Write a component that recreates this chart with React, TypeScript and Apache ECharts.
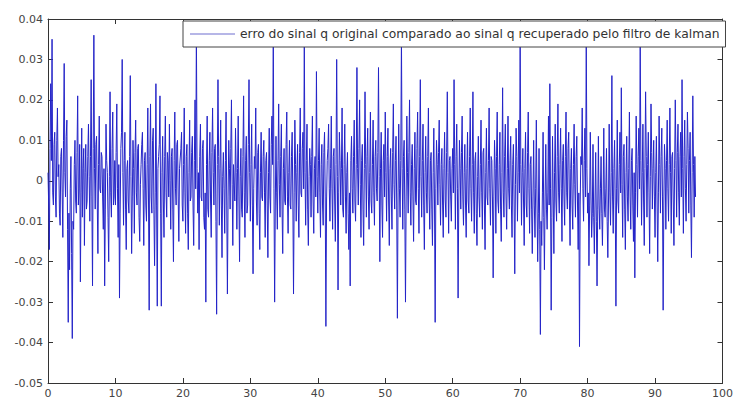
import React, { useEffect, useRef } from "react";
import * as echarts from "echarts";

// sampling step of the time axis (seconds)
const sampleStep = 0.1;

// error values in thousandths (x 1e-3), 20 samples per 2 s
const errMilli: number[] = [
  2, -6, -17, 8, 24, 5, 35, -3, -6, 9, 12, -4, -9, 10, 18, 1, 4, -8, -11, 6,
  8, -3, -14, 10, 29, 2, -4, 11, 15, -12, -35, -8, -22, -2, 6, -18, -39, -10, -12, 4,
  10, -5, -8, 7, 21, -6, -2, 9, -25, -3, 13, -9, 3, 8, -16, 2, 9, -7, -5, 6,
  14, 1, -10, 6, 25, -4, -26, 8, 36, 3, -7, 9, 11, -5, -18, 4, 16, -2, -3, 7,
  6, -4, -12, 3, -26, -7, 14, 5, 2, -9, -20, 1, 22, -3, -9, 8, 17, -6, -4, 5,
  -6, 7, 19, -2, -14, 4, -29, -8, 8, 12, 30, 2, -11, 5, 12, -7, -17, 3, 5, -5,
  -8, 6, 26, 1, -18, -4, 10, 3, -13, 7, 15, -3, -6, 8, 9, -9, -15, -1, 4, 9,
  12, -2, -16, 5, 7, -6, -10, 4, 18, -5, -32, 6, 19, -4, -8, 10, 13, -7, -21, -3,
  24, -6, -31, 3, 6, 9, 21, -8, -31, 2, 11, -5, -14, 6, 16, -3, -9, 7, 5, -4,
  14, 0, -12, 6, 8, -7, -20, 5, 17, -2, -6, 9, 10, -4, -15, 3, 3, 8, 12, -6,
  -10, 4, 18, -3, -13, 6, 9, -8, -17, 2, 15, -5, -4, 7, 11, -6, -16, 5, 20, -2,
  37, 3, -8, 2, -17, 6, 14, -4, -5, 8, 10, -9, -12, -3, -30, 4, 16, -7, -9, 5,
  12, -5, -14, 7, 18, 2, -6, 8, 9, -10, -33, 4, 25, 6, -11, 3, 15, -6, -19, 1,
  7, -2, -13, 5, 17, -6, -28, -4, 10, 3, -7, 8, 20, -1, -16, 4, 4, -5, 13, 2,
  -12, 3, 16, -4, -20, 1, 8, -7, -9, 6, 21, -3, -14, 5, 11, -8, -6, 9, 25, 2,
  -10, 4, 14, -6, -23, -2, 6, 3, 18, -5, -11, 7, 9, -8, -17, 2, 12, -4, -5, 6,
  10, -3, -14, 5, 7, -6, -19, 2, 13, -4, -8, 9, 16, 4, 36, -2, -30, -6, 11, -3,
  -12, 5, 19, -1, -9, 6, 14, -7, -18, 3, 8, -5, -6, 9, 17, -4, -13, 2, 10, -6,
  -7, 6, 12, -5, -28, -3, 15, 4, -10, 2, 9, -6, -14, 7, 18, -3, -4, 8, 12, -2,
  34, 2, -11, 5, 14, -7, -16, 1, 8, 4, -9, 6, 16, -5, -13, 3, 6, -4, 27, 1,
  -8, 5, 13, -3, -14, 4, 9, -6, -11, 7, 12, -4, -36, -5, 5, 8, 14, -2, -10, 3,
  16, -2, -12, 6, 8, -5, -15, 4, 30, 1, -27, -3, 12, 5, -6, 3, 18, -7, -9, 4,
  14, -4, -13, 2, 7, -8, -17, -3, -26, 5, 11, -2, -8, 6, 15, -5, -10, 4, 28, 3,
  -6, 8, 20, -1, -14, 5, 9, -7, -16, 3, 22, 4, -9, 6, 13, -4, -12, 2, 17, -5,
  -8, 4, 15, -3, -11, 6, 10, -2, -5, 7, 28, 1, -20, 3, 12, -6, -14, 5, 9, -4,
  17, 2, -10, 6, 13, -5, -16, 3, 8, -4, -12, 7, 19, -1, -7, 5, 11, -6, -34, -3,
  14, -2, -9, 5, 36, 3, -12, 6, 10, -7, -30, -4, 16, 2, -8, 7, 20, -3, -11, 4,
  9, -4, -15, 3, 12, -5, -6, 8, 17, -2, -13, 6, 25, 1, -9, 5, 14, -6, -17, 2,
  11, -3, -8, 6, 18, -4, -12, 5, 7, -7, -16, 2, 13, -5, -35, -2, 10, 4, -6, 7,
  15, -1, -11, 4, 8, -6, -14, 3, 12, -5, -9, 7, 22, 2, -13, 5, 6, -4, -10, 3,
  8, -3, 25, 4, -12, 6, 14, -2, -29, -5, 10, 3, -7, 7, 16, -4, -11, 2, 9, -6,
  -14, 3, 12, -5, -8, 6, 18, -2, -10, 4, 22, -3, -13, 5, 7, -8, -16, 1, 11, -4,
  -9, 4, 15, -3, -12, 7, 8, -6, -17, 2, 13, -4, -6, 5, 18, -2, -11, 6, 5, -5,
  -24, -4, 10, 3, -13, 6, 17, -5, -8, 4, 12, -7, -15, 2, 23, -3, -9, 6, 14, -4,
  -12, 3, 16, -2, -7, 5, 11, -6, -14, 4, 9, -5, -23, -1, 13, 6, -10, 2, 15, -3,
  36, 4, -11, 2, 8, -5, -16, 3, 12, -6, -9, 7, 17, -2, -13, 4, 6, -7, -18, -4,
  10, -6, -14, -2, 15, -5, -20, -8, 8, -12, -38, -10, -16, -3, 12, -9, -22, -4, 9, -7,
  -12, -3, 16, -6, 24, -2, -32, -9, 11, -4, -18, 2, 14, -5, -10, 6, 19, -3, -8, 4,
  13, -2, -15, 5, 9, -4, -11, 6, 17, -3, -7, 8, 12, -5, -16, 3, 8, -6, -12, 4,
  14, -1, -9, 6, 11, -5, -17, -3, -41, -6, 6, 4, 18, -2, -10, 5, 13, -4, 35, 3,
  -8, -3, -21, -6, 12, -4, -14, -8, 9, -9, -18, -5, 7, -10, -26, -7, 11, -6, -12, -2,
  6, -8, -16, -4, 13, -7, -9, -2, 8, -10, -19, -5, 14, -3, -11, 2, 26, -4, -13, 3,
  10, -6, -31, -2, 15, -5, -8, 4, 12, -3, 23, -1, -14, 6, 9, -7, -17, 2, 11, -4,
  -10, 3, 17, -4, -12, 5, 8, -6, -15, 2, -24, -3, 16, 4, -9, 6, 13, -2, 34, 5,
  -11, 2, 14, -5, -16, 3, 22, 6, -9, 4, 12, -3, -18, 1, 19, 7, -7, 3, 10, -4,
  -14, 2, 11, -5, -20, -3, 16, 4, -8, 6, 13, -4, -32, -6, 9, 3, -12, 5, 15, -2,
  -10, 4, 18, 2, -13, 6, 7, -5, -16, 3, 20, 5, -9, 7, 14, -3, -11, 6, 12, -4,
  25, 3, -13, 6, 15, -2, -10, 4, 17, 8, -8, 5, 12, -6, -19, 2, 21, 4, -9, 6,
  -4,
];

const seriesName =
  "erro do sinal q original comparado ao sinal q recuperado pelo filtro de kalman";

const xTicks = { min: 0, max: 100, interval: 10 };
const yTicks = { min: -0.05, max: 0.04, interval: 0.01 };

export default function App() {
  const ref = useRef<HTMLDivElement>(null);
  useEffect(() => {
    if (!ref.current) return;
    const chart = echarts.init(ref.current, null, { renderer: "svg" });
    const data = errMilli.map((v, i) => [i * sampleStep, v / 1000]);
    const axisLine = { show: true, onZero: false, lineStyle: { color: "#333", width: 1 } };
    const tick = { show: true, inside: true, length: 5, lineStyle: { color: "#333" } };
    const font = "DejaVu Sans";
    chart.setOption({
      animation: false,
      backgroundColor: "#fff",
      grid: { left: 48, right: 11, top: 19, bottom: 20, containLabel: false },
      legend: {
        show: true,
        data: [seriesName],
        left: 183,
        top: 21,
        orient: "horizontal",
        backgroundColor: "#fff",
        borderColor: "#444",
        borderWidth: 1,
        borderRadius: 0,
        padding: [7, 6, 7, 7],
        icon: "rect",
        itemWidth: 45,
        itemHeight: 1,
        itemGap: 5,
        itemStyle: { color: "#6f6fd0" },
        textStyle: { fontFamily: font, fontSize: 12.3, color: "#333" },
      },
      xAxis: [
        {
          type: "value",
          ...xTicks,
          position: "bottom",
          axisLine,
          axisTick: tick,
          splitLine: { show: false },
          axisLabel: { fontFamily: font, fontSize: 11, color: "#444", margin: 5 },
        },
        {
          type: "value",
          ...xTicks,
          position: "top",
          axisLine,
          axisTick: tick,
          splitLine: { show: false },
          axisLabel: { show: false },
        },
      ],
      yAxis: [
        {
          type: "value",
          ...yTicks,
          position: "left",
          axisLine,
          axisTick: tick,
          splitLine: { show: false },
          axisLabel: {
            fontFamily: font,
            fontSize: 11,
            color: "#444",
            margin: 5,
            formatter: (v: number) => String(+v.toFixed(2)),
          },
        },
        {
          type: "value",
          ...yTicks,
          position: "right",
          axisLine,
          axisTick: tick,
          splitLine: { show: false },
          axisLabel: { show: false },
        },
      ],
      series: [
        {
          name: seriesName,
          type: "line",
          xAxisIndex: 0,
          yAxisIndex: 0,
          data,
          symbol: "none",
          showSymbol: false,
          lineStyle: { color: "#2424c8", width: 1 },
          itemStyle: { color: "#2424c8" },
          z: 1,
        },
      ],
    });
    return () => chart.dispose();
  }, []);
  return <div ref={ref} style={{ width: 736, height: 403, position: "absolute", left: 0, top: 0 }} />;
}
